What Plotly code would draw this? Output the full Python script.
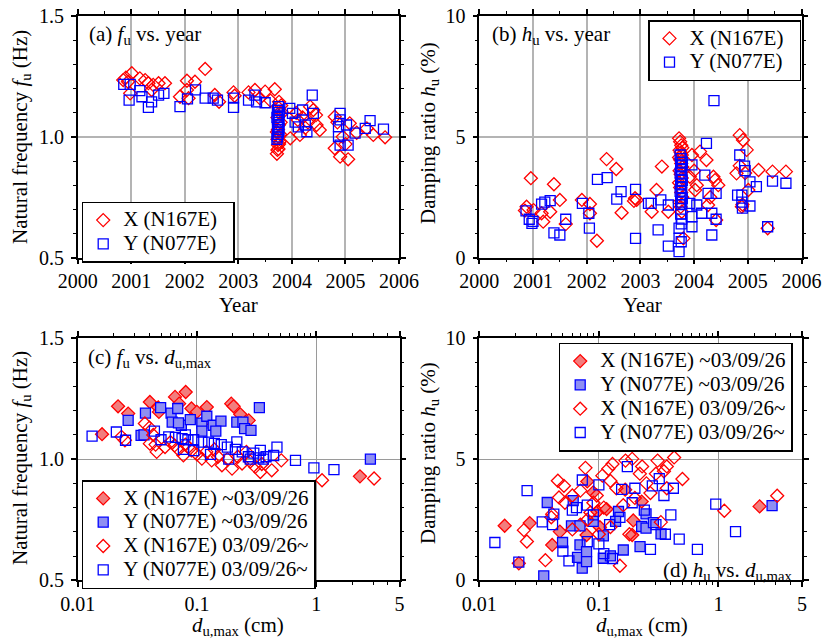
import plotly.graph_objects as go

# ---------------- data ----------------
# (a)/(b) vs. year
a_x_year = [2000.85, 2001.01, 2000.94, 2001.16, 2001.26, 2001.32, 2001.41, 2001.51, 2001.63, 2000.98,
            2001.38, 2000.90, 2002.04, 2002.19, 2002.38, 2001.91, 2002.04, 2002.07, 2002.56, 2002.64,
            2002.91, 2002.93, 2003.19, 2003.31, 2003.50, 2003.68, 2003.76, 2003.40, 2003.60,
            2003.72, 2003.73, 2003.74, 2003.75, 2003.76, 2003.77, 2003.73, 2003.75, 2003.78, 2003.72,
            2003.74, 2003.76, 2003.79, 2003.73, 2003.77, 2003.75, 2003.80, 2003.82,
            2003.97, 2004.11, 2004.25, 2004.15, 2004.52, 2004.08, 2004.40, 2004.46, 2004.34, 2004.30,
            2004.20, 2004.45, 2004.80, 2004.80, 2004.90, 2005.05, 2005.08, 2005.21, 2005.40, 2005.52,
            2005.74, 2004.85, 2004.95, 2005.00]
a_x_f = [1.235, 1.263, 1.228, 1.242, 1.235, 1.222, 1.215, 1.222, 1.222, 1.180,
         1.194, 1.245, 1.232, 1.228, 1.281, 1.166, 1.194, 1.160, 1.173, 1.145,
         1.184, 1.170, 1.184, 1.194, 1.187, 1.197, 1.145, 1.160, 1.150,
         0.930, 0.946, 0.966, 0.950, 0.970, 0.980, 0.990, 1.000, 1.010, 1.020,
         1.030, 1.050, 1.060, 1.080, 1.100, 1.120, 1.130, 1.100,
         0.994, 1.070, 1.037, 1.008, 1.028, 1.099, 1.111, 1.049, 1.125, 1.060,
         1.080, 1.090, 1.083, 0.953, 0.918, 0.907, 1.056, 1.017, 1.035, 1.008,
         0.998, 1.060, 1.000, 0.970]

a_y_year = [2000.86, 2000.98, 2000.96, 2001.16, 2001.20, 2001.32, 2001.38, 2001.51, 2001.61, 2001.91,
            2002.05, 2002.20, 2002.38, 2002.53, 2002.61, 2002.91, 2002.91, 2003.19, 2003.31, 2003.34,
            2003.50, 2003.72, 2003.73, 2003.74, 2003.75, 2003.76, 2003.73, 2003.74, 2003.75, 2003.76,
            2003.72, 2003.74, 2003.76, 2003.73, 2003.75,
            2003.96, 2004.01, 2004.20, 2004.38, 2004.40, 2004.28, 2004.06, 2004.25, 2004.12,
            2004.90, 2004.90, 2004.87, 2004.87, 2004.90, 2005.05, 2005.02, 2005.18, 2005.37, 2005.46,
            2005.71]
a_y_f = [1.217, 1.217, 1.152, 1.191, 1.166, 1.122, 1.145, 1.173, 1.180, 1.125,
         1.157, 1.194, 1.160, 1.160, 1.152, 1.160, 1.122, 1.152, 1.173, 1.145,
         1.141, 0.990, 1.000, 1.010, 1.020, 1.030, 1.040, 1.050, 1.060, 1.070,
         1.080, 1.090, 1.100, 1.110, 1.125,
         1.118, 1.097, 1.111, 1.173, 1.097, 1.021, 1.061, 1.049, 1.041,
         1.097, 1.070, 1.042, 1.001, 0.966, 0.966, 1.049, 1.015, 1.035, 1.067,
         1.032]

b_x_year = [2000.96, 2001.39, 2001.50, 2000.88, 2001.01, 2001.16, 2001.32, 2001.19, 2001.61, 2000.85,
            2002.37, 2002.55, 2001.91, 2002.06, 2002.06, 2002.19, 2002.65, 2002.90, 2002.93, 2002.88,
            2003.21, 2003.30, 2003.40, 2003.52,
            2003.72, 2003.74, 2003.76, 2003.78, 2003.73, 2003.75, 2003.77, 2003.72, 2003.74, 2003.76,
            2003.78, 2003.73, 2003.75, 2003.77, 2003.72, 2003.74, 2003.76, 2003.78, 2003.73, 2003.75,
            2003.77, 2003.80,
            2003.96, 2003.92, 2004.02, 2004.11, 2004.23, 2004.36, 2004.39, 2004.26, 2004.41, 2004.00,
            2004.05, 2004.30, 2004.45, 2004.85, 2004.91, 2004.98, 2004.79, 2004.89, 2005.01, 2005.20,
            2005.46, 2005.71, 2005.37, 2004.85, 2004.95, 2004.90]
b_x_h = [3.29, 3.04, 2.39, 2.11, 1.97, 1.84, 1.90, 1.49, 1.39, 1.95,
         4.08, 3.67, 2.39, 2.22, 1.84, 0.70, 1.86, 2.46, 2.39, 2.35,
         1.90, 2.80, 3.77, 1.90,
         4.94, 4.80, 4.65, 4.55, 4.45, 4.35, 4.25, 4.15, 4.05, 3.90,
         3.75, 3.60, 3.45, 3.30, 3.10, 2.90, 2.70, 2.50, 2.30, 2.10,
         1.90, 0.80,
         4.25, 3.35, 2.80, 4.39, 4.04, 3.35, 3.21, 2.18, 1.56, 3.60,
         3.00, 2.50, 3.00, 5.07, 4.87, 4.46, 3.49, 2.11, 2.80, 3.63,
         3.56, 3.56, 1.22, 3.80, 3.50, 2.20]

b_y_year = [2000.87, 2000.93, 2000.98, 2001.00, 2001.16, 2001.32, 2001.22, 2001.39, 2001.50, 2001.61,
            2001.92, 2002.04, 2002.05, 2002.20, 2002.38, 2002.56, 2002.64, 2002.91, 2002.91, 2003.15,
            2003.20, 2003.33, 2003.38, 2003.52, 2003.52,
            2003.74, 2003.76, 2003.78, 2003.75, 2003.77, 2003.74, 2003.76, 2003.78, 2003.75, 2003.77,
            2003.74, 2003.76, 2003.78, 2003.75, 2003.77,
            2003.75, 2003.77, 2003.76, 2003.72, 2003.72, 2003.76, 2003.72,
            2003.92, 2003.96, 2003.96, 2003.96, 2004.05, 2004.14, 2004.20, 2004.23, 2004.26, 2004.33,
            2004.33, 2004.37, 2004.41, 2004.41, 2004.81, 2004.85, 2004.89, 2004.89, 2004.90, 2004.94,
            2004.95, 2005.04, 2005.04, 2005.16, 2005.37, 2005.46, 2005.71]
b_y_h = [1.94, 1.59, 1.42, 1.50, 2.22, 2.36, 2.30, 1.03, 0.94, 1.59,
         2.25, 1.84, 1.22, 3.24, 3.31, 2.42, 2.73, 2.83, 0.80, 2.25,
         2.25, 1.15, 2.39, 2.18, 0.48,
         4.25, 4.10, 3.95, 3.80, 3.65, 3.50, 3.35, 3.20, 3.05, 2.90,
         2.75, 2.60, 2.45, 2.30, 2.20,
         1.80, 1.60, 1.40, 1.22, 0.80, 0.66, 0.25,
         2.25, 3.84, 1.70, 1.28, 2.18, 1.84, 3.42, 4.73, 2.66, 1.84,
         0.94, 6.50, 2.66, 1.59, 2.59, 4.25, 2.59, 2.30, 2.05, 3.79,
         3.60, 3.14, 2.14, 2.94, 1.28, 3.17, 3.08]

# (c) f vs d_max
c_xb_d = [0.016, 0.0218, 0.0265, 0.0403, 0.0474, 0.0655, 0.0805, 0.071, 0.090, 0.121,
          0.100, 0.194, 0.203, 0.231, 0.272, 0.117, 0.048, 2.33]
c_xb_f = [1.103, 1.218, 1.188, 1.236, 1.213, 1.257, 1.277, 1.229, 1.209, 1.215,
          1.195, 1.229, 1.218, 1.185, 1.160, 1.160, 1.195, 0.929]
c_yb_d = [0.0265, 0.037, 0.0496, 0.0607, 0.069, 0.062, 0.074, 0.088, 0.110, 0.110,
          0.121, 0.137, 0.159, 0.144, 0.216, 0.243, 0.251, 0.284, 0.334, 0.034,
          2.85, 0.070, 0.036]
c_yb_f = [1.160, 1.190, 1.213, 1.190, 1.209, 1.153, 1.140, 1.163, 1.149, 1.116,
          1.177, 1.140, 1.157, 1.116, 1.153, 1.153, 1.126, 1.119, 1.213, 1.098,
          1.000, 1.150, 1.100]
c_xa_d = [0.0233, 0.0249, 0.0366, 0.0403, 0.046, 0.043, 0.054, 0.065, 0.077, 0.090,
          0.110, 0.133, 0.162, 0.197, 0.239, 0.309, 0.340, 0.424, 0.510, 1.12,
          3.06, 0.060, 0.085, 0.120, 0.150, 0.180, 0.220, 0.280, 0.350, 0.045,
          0.070, 0.100, 0.140, 0.260, 0.080, 0.040]
c_xa_f = [1.092, 1.078, 1.147, 1.064, 1.030, 1.100, 1.050, 1.057, 1.016, 1.036,
          1.002, 0.995, 0.975, 0.961, 0.982, 0.968, 0.947, 0.954, 0.995, 0.913,
          0.920, 1.070, 1.050, 1.030, 1.010, 1.000, 1.010, 0.990, 0.980, 1.060,
          1.040, 1.020, 1.040, 1.030, 1.060, 1.130]
c_ya_d = [0.0132, 0.0211, 0.0252, 0.044, 0.671, 0.957, 1.41, 0.216, 0.469, 0.34,
          0.36, 0.27, 0.24, 0.21, 0.18, 0.16, 0.14, 0.125, 0.11, 0.094,
          0.084, 0.075, 0.066, 0.058, 0.080, 0.077, 0.094, 0.13, 0.185, 0.28,
          0.44, 0.05, 0.30, 0.38, 0.33]
c_ya_f = [1.095, 1.112, 1.078, 1.116, 0.995, 0.964, 0.957, 1.071, 1.050, 1.036,
          1.000, 1.010, 1.030, 1.040, 1.050, 1.060, 1.065, 1.070, 1.070, 1.080,
          1.080, 1.085, 1.090, 1.092, 1.100, 1.040, 1.035, 1.020, 1.000, 1.000,
          1.015, 1.080, 1.025, 1.010, 1.005]

# (d) h vs d_max
d_xb_d = [0.0163, 0.0264, 0.0214, 0.0407, 0.0472, 0.080, 0.0897, 0.0975, 0.0789, 0.102,
          0.116, 0.166, 0.194, 0.190, 0.228, 2.21, 0.070]
d_xb_h = [2.25, 2.36, 0.70, 1.46, 2.01, 4.08, 3.63, 2.84, 1.87, 2.19,
          2.94, 3.74, 2.47, 1.87, 3.25, 3.05, 2.30]
d_yb_d = [0.037, 0.061, 0.0497, 0.0695, 0.0663, 0.0726, 0.0789, 0.0789, 0.059, 0.0695,
          0.0897, 0.109, 0.109, 0.125, 0.146, 0.138, 0.160, 0.221, 0.228, 0.248,
          0.248, 0.286, 0.331, 2.81, 0.0346]
d_yb_h = [3.21, 3.29, 1.56, 1.46, 0.95, 0.50, 1.18, 0.77, 2.25, 2.25,
          2.43, 1.83, 0.91, 1.01, 2.84, 2.43, 1.25, 1.39, 2.22, 2.15,
          2.74, 2.38, 1.92, 3.08, 0.18]
d_xa_d = [0.025, 0.0236, 0.0357, 0.0407, 0.0454, 0.051, 0.0464, 0.052, 0.0772, 0.070,
          0.096, 0.107, 0.120, 0.130, 0.125, 0.167, 0.190, 0.220, 0.230, 0.310,
          0.370, 0.426, 0.500, 0.300, 0.370, 0.330, 0.180, 0.150, 1.12, 3.10,
          0.060, 0.080, 0.100, 0.125, 0.140, 0.200, 0.250, 0.090, 0.060, 0.040,
          0.110, 0.160, 0.270, 0.350, 0.085]
d_xa_h = [1.60, 2.07, 0.83, 2.73, 4.11, 3.90, 3.42, 3.20, 4.64, 3.70,
          3.50, 4.32, 4.60, 4.80, 4.10, 4.94, 5.01, 4.40, 4.70, 4.94,
          4.70, 5.07, 4.18, 4.40, 3.80, 2.40, 1.90, 0.60, 2.87, 3.49,
          2.10, 2.50, 1.90, 2.20, 3.80, 3.40, 4.00, 3.20, 3.50, 2.60,
          3.00, 3.10, 3.60, 4.50, 2.80]
d_ya_d = [0.0135, 0.0251, 0.0214, 0.0336, 0.042, 0.041, 0.050, 0.0562, 0.060, 0.0727,
          0.080, 0.080, 0.100, 0.100, 0.123, 0.130, 0.173, 0.155, 0.200, 0.190,
          0.270, 0.280, 0.320, 0.350, 0.360, 0.400, 0.420, 0.470, 0.667, 0.950,
          1.39, 0.065, 0.090, 0.150, 0.110, 0.240, 0.300]
d_ya_h = [1.56, 3.70, 0.75, 2.41, 2.73, 2.30, 1.20, 0.80, 2.90, 4.14,
          3.10, 1.60, 3.94, 1.50, 2.30, 0.90, 4.69, 3.75, 3.80, 3.20,
          1.28, 3.90, 4.20, 3.50, 1.90, 2.70, 3.80, 1.70, 1.28, 3.14,
          2.01, 3.00, 2.70, 2.60, 1.10, 2.90, 2.30]

names_ab = ["X (N167E)", "Y (N077E)"]
names_cd = ["X (N167E) ~03/09/26", "Y (N077E) ~03/09/26",
            "X (N167E) 03/09/26~", "Y (N077E) 03/09/26~"]

# ---------------- styles ----------------
RED = "#ff0000"
BLUE = "#0000ff"
RED_FILL = "#f27d7d"
BLUE_FILL = "#8f8ff2"
FONT = "'Liberation Serif', 'Times New Roman', Times, serif"
LEG_SPAN = '<span style="font-size:21px">{}</span>'
PAD_AB = "\u2002"   # small right padding inside the (a)/(b) legend boxes


def mk(symbol, line_color, fill=None, size=10):
    m = dict(symbol=symbol, size=size, line=dict(color=line_color, width=1.3))
    m["color"] = fill if fill is not None else line_color
    return m


fig = go.Figure()

# (a)
fig.add_trace(go.Scatter(x=a_x_year, y=a_x_f, mode="markers",
                         name=LEG_SPAN.format(names_ab[0] + PAD_AB),
                         marker=mk("diamond-open", RED), xaxis="x", yaxis="y", legend="legend"))
fig.add_trace(go.Scatter(x=a_y_year, y=a_y_f, mode="markers",
                         name=LEG_SPAN.format(names_ab[1] + PAD_AB),
                         marker=mk("square-open", BLUE), xaxis="x", yaxis="y", legend="legend"))
# (b)
fig.add_trace(go.Scatter(x=b_x_year, y=b_x_h, mode="markers",
                         name=LEG_SPAN.format(names_ab[0] + PAD_AB),
                         marker=mk("diamond-open", RED), xaxis="x2", yaxis="y2", legend="legend2"))
fig.add_trace(go.Scatter(x=b_y_year, y=b_y_h, mode="markers",
                         name=LEG_SPAN.format(names_ab[1] + PAD_AB),
                         marker=mk("square-open", BLUE), xaxis="x2", yaxis="y2", legend="legend2"))
# (c)
for (xx, yy, nm, m) in [
    (c_xb_d, c_xb_f, names_cd[0], mk("diamond", RED, RED_FILL)),
    (c_yb_d, c_yb_f, names_cd[1], mk("square", BLUE, BLUE_FILL)),
    (c_xa_d, c_xa_f, names_cd[2], mk("diamond-open", RED)),
    (c_ya_d, c_ya_f, names_cd[3], mk("square-open", BLUE)),
]:
    fig.add_trace(go.Scatter(x=xx, y=yy, mode="markers", name=LEG_SPAN.format(nm), marker=m,
                             xaxis="x3", yaxis="y3", legend="legend3"))
# (d)
for (xx, yy, nm, m) in [
    (d_xb_d, d_xb_h, names_cd[0], mk("diamond", RED, RED_FILL)),
    (d_yb_d, d_yb_h, names_cd[1], mk("square", BLUE, BLUE_FILL)),
    (d_xa_d, d_xa_h, names_cd[2], mk("diamond-open", RED)),
    (d_ya_d, d_ya_h, names_cd[3], mk("square-open", BLUE)),
]:
    fig.add_trace(go.Scatter(x=xx, y=yy, mode="markers", name=LEG_SPAN.format(nm), marker=m,
                             xaxis="x4", yaxis="y4", legend="legend4"))


def axis(domain, anchor, grid_color, grid_width, standoff, **kw):
    d = dict(domain=domain, anchor=anchor, showline=True, linecolor="black", linewidth=1.5,
             mirror="allticks", ticks="outside", ticklen=5, tickwidth=1.5, tickcolor="black",
             showgrid=True, gridcolor=grid_color, gridwidth=grid_width, zeroline=False,
             automargin=False,
             tickfont=dict(family=FONT, size=20, color="black"), ticklabelstandoff=standoff)
    d.update(kw)
    return d


W, H = 824, 642
xa_dom = [77.7 / W, 399.0 / W]
xb_dom = [479.3 / W, 801.5 / W]
xc_dom = [77.7 / W, 399.5 / W]
xd_dom = [479.3 / W, 802.0 / W]
ytop_dom = [1 - 257.7 / H, 1 - 16.0 / H]
ybot_dom = [1 - 580.3 / H, 1 - 338.0 / H]

log_minor = [0.02, 0.03, 0.04, 0.05, 0.06, 0.07, 0.08, 0.09,
             0.2, 0.3, 0.4, 0.5, 0.6, 0.7, 0.8, 0.9, 2, 3, 4]
log_ticks = [0.01, 0.1, 1, 5]
log_text = ["0.01", "0.1", "1", "5"]

GA, GAW = "#b4b4b4", 1.5
GC, GCW = "#9a9a9a", 1.0
MINOR_LIN = dict(ticks="outside", ticklen=3, tickwidth=1, showgrid=False)

fig.update_layout(
    width=W, height=H, margin=dict(l=0, r=0, t=0, b=0, autoexpand=False),
    paper_bgcolor="white", plot_bgcolor="white",
    font=dict(family=FONT, size=20, color="black"),
    xaxis=axis(xa_dom, "y", GA, GAW, 0, range=[2000, 2006], tick0=2000, dtick=1,
               minor=dict(dtick=0.5, **MINOR_LIN)),
    yaxis=axis(ytop_dom, "x", GA, GAW, 3, range=[0.5, 1.5], tick0=0.5, dtick=0.5, tickformat=".1f",
               minor=dict(dtick=0.1, **MINOR_LIN)),
    xaxis2=axis(xb_dom, "y2", GA, GAW, 0, range=[2000, 2006], tick0=2000, dtick=1,
                minor=dict(dtick=0.5, **MINOR_LIN)),
    yaxis2=axis(ytop_dom, "x2", GA, GAW, 3, range=[0, 10], tick0=0, dtick=5,
                minor=dict(dtick=1, **MINOR_LIN)),
    xaxis3=axis(xc_dom, "y3", GC, GCW, 0, type="log", range=[-2, 0.69897],
                tickmode="array", tickvals=log_ticks, ticktext=log_text,
                minor=dict(tickmode="array", tickvals=log_minor, **MINOR_LIN)),
    yaxis3=axis(ybot_dom, "x3", GC, GCW, 3, range=[0.5, 1.5], tick0=0.5, dtick=0.5, tickformat=".1f",
                minor=dict(dtick=0.1, **MINOR_LIN)),
    xaxis4=axis(xd_dom, "y4", GC, GCW, 0, type="log", range=[-2, 0.69897],
                tickmode="array", tickvals=log_ticks, ticktext=log_text,
                minor=dict(tickmode="array", tickvals=log_minor, **MINOR_LIN)),
    yaxis4=axis(ybot_dom, "x4", GC, GCW, 3, range=[0, 10], tick0=0, dtick=5,
                minor=dict(dtick=1, **MINOR_LIN)),
)

leg_common = dict(bgcolor="white", bordercolor="black", borderwidth=1.5,
                  font=dict(family=FONT, size=16, color="black"),
                  xanchor="left", yanchor="top", tracegroupgap=0)
fig.update_layout(
    legend=dict(x=81.7 / W, y=1 - 201.7 / H, **leg_common),
    legend2=dict(x=648.0 / W, y=1 - 20.0 / H, **leg_common),
    legend3=dict(x=81.7 / W, y=1 - 480.0 / H, **leg_common),
    legend4=dict(x=558.7 / W, y=1 - 342.7 / H, **leg_common),
)

ann = []


def add_text(text, x, y, xanchor="center", yanchor="middle", angle=0, size=21):
    ann.append(dict(text=text, x=x / W, y=1 - y / H, xref="paper", yref="paper",
                    xanchor=xanchor, yanchor=yanchor, textangle=angle, showarrow=False,
                    font=dict(family=FONT, size=size, color="black")))


fu = "<i>f</i><sub>u</sub>"
hu = "<i>h</i><sub>u</sub>"
dmax = "<i>d</i><sub>u,max</sub>"

add_text("Natural frequency " + fu + " (Hz)", 21, 137, angle=-90)
add_text("Year", 238, 305)
add_text("Damping ratio " + hu + " (%)", 429, 133, angle=-90)
add_text("Year", 642, 305)
add_text("Natural frequency " + fu + " (Hz)", 21, 458, angle=-90)
add_text(dmax + " (cm)", 238, 626)
add_text("Damping ratio " + hu + " (%)", 429, 453, angle=-90)
add_text(dmax + " (cm)", 642, 626)

add_text("(a) " + fu + " vs. year", 87, 35, xanchor="left")
add_text("(b) " + hu + " vs. year", 489.7, 35, xanchor="left")
add_text("(c) " + fu + " vs. " + dmax, 86, 358, xanchor="left")
add_text("(d) " + hu + " vs. " + dmax, 794, 571, xanchor="right")

fig.update_layout(annotations=ann)

fig.write_html("out.html")
